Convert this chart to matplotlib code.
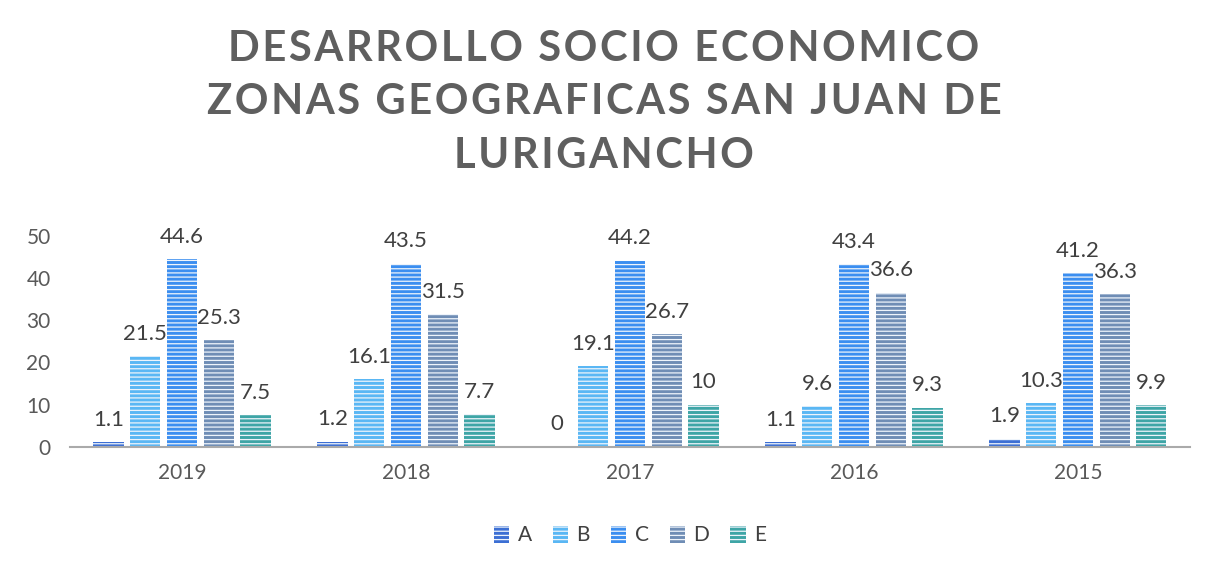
import matplotlib.pyplot as plt
import numpy as np

plt.rcParams['font.family'] = ['Lato', 'DejaVu Sans']
plt.rcParams['hatch.linewidth'] = 0.9

# data
years = ['2019', '2018', '2017', '2016', '2015']
series = ['A', 'B', 'C', 'D', 'E']
val_a = [1.1, 1.2, 0, 1.1, 1.9]
val_b = [21.5, 16.1, 19.1, 9.6, 10.3]
val_c = [44.6, 43.5, 44.2, 43.4, 41.2]
val_d = [25.3, 31.5, 26.7, 36.6, 36.3]
val_e = [7.5, 7.7, 10, 9.3, 9.9]
colors = ['#3c6fd4', '#5ab7f4', '#3b8ef0', '#6f8db5', '#3ea5a6']

fig = plt.figure(figsize=(12.08, 5.69), dpi=100)
ax = fig.add_axes([0.058, 0.215, 0.927, 0.37])

x = np.arange(len(years))
step = 0.164
width = 0.135
for i, (name, vals) in enumerate(zip(series, [val_a, val_b, val_c, val_d, val_e])):
    pos = x + (i - 2) * step
    ax.bar(pos, vals, width, color=colors[i], hatch='----', edgecolor='#eef4fb',
           linewidth=0, label=name)
    for p, v in zip(pos, vals):
        ax.text(p, v + 5.3, f'{v:g}', ha='center', va='center',
                fontsize=16, color='#404040')

ax.set_xlim(-0.5, 4.5)
ax.set_ylim(0, 50)
ax.set_xticks(x)
ax.set_xticklabels(years, fontsize=15, color='#595959')
ax.set_yticks(range(0, 51, 10))
ax.tick_params(axis='y', labelsize=15, labelcolor='#595959', length=0, pad=14)
ax.tick_params(axis='x', length=0, pad=12)
for s in ['top', 'right', 'left']:
    ax.spines[s].set_visible(False)
ax.spines['bottom'].set_color('#aaaaaa')
ax.spines['bottom'].set_linewidth(1.5)

title_lines = ['DESARROLLO SOCIO ECONOMICO', 'ZONAS GEOGRAFICAS SAN JUAN DE', 'LURIGANCHO']
spaced = '\n'.join('\u200a'.join(line) for line in title_lines)
fig.text(0.5, 0.948, spaced, ha='center', va='top', fontsize=30, fontweight='bold',
         color='#5f5f5f', linespacing=1.5)

ax.legend(loc='upper center', bbox_to_anchor=(0.5, -0.285), ncol=5, frameon=False,
          fontsize=15, handlelength=0.75, handleheight=0.9, columnspacing=1.0,
          handletextpad=0.4, labelcolor='#404040')

fig.savefig('out.png', dpi=100)
